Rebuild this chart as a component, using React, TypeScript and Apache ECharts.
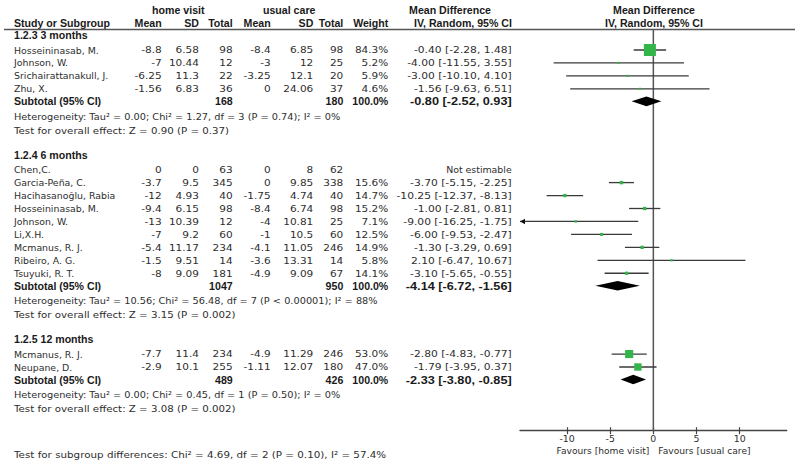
import React, { useEffect, useRef } from "react";
import * as echarts from "echarts";

// ---------- data ----------
const groupTitles = ["1.2.3 3 months", "1.2.4 6 months", "1.2.5 12 months"];
const studyGroup = [0, 0, 0, 0, 1, 1, 1, 1, 1, 1, 1, 1, 1, 2, 2];
const studyNames = [
  "Hosseininasab, M.", "Johnson, W.", "Srichairattanakull, J.", "Zhu, X.",
  "Chen,C.", "Garcia-Peña, C.", "Hacihasanoğlu, Rabia", "Hosseininasab, M.", "Johnson, W.",
  "Li,X.H.", "Mcmanus, R. J.", "Ribeiro, A. G.", "Tsuyuki, R. T.",
  "Mcmanus, R. J.", "Neupane, D.",
];
const hvMean = [-8.8, -7, -6.25, -1.56, 0, -3.7, -12, -9.4, -13, -7, -5.4, -1.5, -8, -7.7, -2.9];
const hvSD = [6.58, 10.44, 11.3, 6.83, 0, 9.5, 4.93, 6.15, 10.39, 9.2, 11.17, 9.51, 9.09, 11.4, 10.1];
const hvTotal = [98, 12, 22, 36, 63, 345, 40, 98, 12, 60, 234, 14, 181, 234, 255];
const ucMean = [-8.4, -3, -3.25, 0, 0, 0, -1.75, -8.4, -4, -1, -4.1, -3.6, -4.9, -4.9, -1.11];
const ucSD = [6.85, 12, 12.1, 24.06, 8, 9.85, 4.74, 6.74, 10.81, 10.5, 11.05, 13.31, 9.09, 11.29, 12.07];
const ucTotal = [98, 25, 20, 37, 62, 338, 40, 98, 25, 60, 246, 14, 67, 246, 180];
const weights: (number | null)[] = [84.3, 5.2, 5.9, 4.6, null, 15.6, 14.7, 15.2, 7.1, 12.5, 14.9, 5.8, 14.1, 53.0, 47.0];
const mdEst: (number | null)[] = [-0.4, -4.0, -3.0, -1.56, null, -3.7, -10.25, -1.0, -9.0, -6.0, -1.3, 2.1, -3.1, -2.8, -1.79];
const mdLo: (number | null)[] = [-2.28, -11.55, -10.1, -9.63, null, -5.15, -12.37, -2.81, -16.25, -9.53, -3.29, -6.47, -5.65, -4.83, -3.95];
const mdHi: (number | null)[] = [1.48, 3.55, 4.1, 6.51, null, -2.25, -8.13, 0.81, -1.75, -2.47, 0.69, 10.67, -0.55, -0.77, 0.37];

const subHvTotal = [168, 1047, 489];
const subUcTotal = [180, 950, 426];
const subEst = [-0.8, -4.14, -2.33];
const subLo = [-2.52, -6.72, -3.8];
const subHi = [0.93, -1.56, -0.85];
const heterogeneity = [
  "Tau² = 0.00; Chi² = 1.27, df = 3 (P = 0.74); I² = 0%",
  "Tau² = 10.56; Chi² = 56.48, df = 7 (P < 0.00001); I² = 88%",
  "Tau² = 0.00; Chi² = 0.45, df = 1 (P = 0.50); I² = 0%",
];
const overallEffect = ["Z = 0.90 (P = 0.37)", "Z = 3.15 (P = 0.002)", "Z = 3.08 (P = 0.002)"];
const subgroupDiff = "Chi² = 4.69, df = 2 (P = 0.10), I² = 57.4%";
const tickValues = [-10, -5, 0, 5, 10];
const favours = ["Favours [home visit]", "Favours [usual care]"];

// ---------- layout / style ----------
const X_MIN = -15.45;
const X_MAX = 15.45;
const Y_TOP = 29.5;
const Y_AXIS = 430.7;
const FONT = "DejaVu Sans";
const FONT_B = "Liberation Sans";
const FS = 9.4;
const FS_B = 10.6;
const TXT = "#2e2e2e";
const BOLD = "#1a1a1a";
const GREEN = "#33b54a";

const COL = {
  name: 14, hvMean: 161.7, hvSD: 199, hvTotal: 232.7, ucMean: 270.7, ucSD: 313.3,
  ucTotal: 343.3, weight: 388.3, ci: 511.7,
};

function fmtCI(e: number, l: number, h: number) {
  return `${e.toFixed(2)} [${l.toFixed(2)}, ${h.toFixed(2)}]`;
}

function computeLayout() {
  const L = { first: 35, toStudy: 15, step: 12.95, toSub: 12.5, toHet: 15, toTest: 14.3, toNext: 24 };
  const groupY: number[] = [], subY: number[] = [], hetY: number[] = [], testY: number[] = [];
  const studyY: number[] = new Array(studyNames.length).fill(0);
  let y = L.first;
  groupTitles.forEach((_, g) => {
    groupY[g] = y;
    y += L.toStudy;
    const idx = studyGroup.map((gg, i) => (gg === g ? i : -1)).filter((i) => i >= 0);
    idx.forEach((i, k) => {
      studyY[i] = y;
      if (k < idx.length - 1) y += L.step;
    });
    y += L.toSub; subY[g] = y;
    y += L.toHet; hetY[g] = y;
    y += L.toTest; testY[g] = y;
    y += L.toNext;
  });
  return { groupY, subY, hetY, testY, studyY };
}

function txt(x: number, y: number, text: string, align: string, bold = false, sx = 1) {
  return {
    type: "text",
    x, y, scaleX: sx, silent: true,
    style: {
      text,
      textAlign: align,
      textVerticalAlign: "middle",
      fontFamily: bold ? FONT_B : FONT,
      fontSize: bold ? FS_B : FS,
      fontWeight: bold ? "bold" : "normal",
      fill: bold ? BOLD : TXT,
    },
  };
}

const SX_NUM = 1.12;
const SX_CI = 1.14;
const SX_CI_B = 1.2;
const SX_HET = 1.04;
const SX_TEST = 1.09;
const SX_DIFF = 1.1;

function buildOption() {
  const { groupY, subY, hetY, testY, studyY } = computeLayout();
  const g: any[] = [];

  // header
  g.push(txt(178.3, 10, "home visit", "center", true));
  g.push(txt(289.2, 10, "usual care", "center", true));
  g.push(txt(450, 10, "Mean Difference", "center", true));
  g.push(txt(654, 10, "Mean Difference", "center", true));
  g.push(txt(COL.name, 23, "Study or Subgroup", "left", true));
  g.push(txt(COL.hvMean, 23, "Mean", "right", true));
  g.push(txt(COL.hvSD, 23, "SD", "right", true));
  g.push(txt(COL.hvTotal, 23, "Total", "right", true));
  g.push(txt(COL.ucMean, 23, "Mean", "right", true));
  g.push(txt(COL.ucSD, 23, "SD", "right", true));
  g.push(txt(COL.ucTotal, 23, "Total", "right", true));
  g.push(txt(COL.weight, 23, "Weight", "right", true));
  g.push(txt(463, 23, "IV, Random, 95% CI", "center", true));
  g.push(txt(654, 23, "IV, Random, 95% CI", "center", true));
  g.push({
    type: "line", silent: true,
    shape: { x1: 4, y1: Y_TOP, x2: 795, y2: Y_TOP },
    style: { stroke: "#555", lineWidth: 1.3 },
  });

  groupTitles.forEach((title, gi) => {
    g.push(txt(COL.name, groupY[gi], title, "left", true));
    g.push(txt(COL.name, subY[gi], "Subtotal (95% CI)", "left", true));
    g.push(txt(COL.hvTotal, subY[gi], String(subHvTotal[gi]), "right", true));
    g.push(txt(COL.ucTotal, subY[gi], String(subUcTotal[gi]), "right", true));
    g.push(txt(COL.weight, subY[gi], "100.0%", "right", true));
    g.push(txt(COL.ci, subY[gi], fmtCI(subEst[gi], subLo[gi], subHi[gi]), "right", true, SX_CI_B));
    g.push(txt(COL.name, hetY[gi], "Heterogeneity: " + heterogeneity[gi], "left", false, SX_HET));
    g.push(txt(COL.name, testY[gi], "Test for overall effect: " + overallEffect[gi], "left", false, SX_TEST));
  });

  studyNames.forEach((name, i) => {
    const y = studyY[i];
    g.push(txt(COL.name, y, name, "left"));
    g.push(txt(COL.hvMean, y, String(hvMean[i]), "right", false, SX_NUM));
    g.push(txt(COL.hvSD, y, String(hvSD[i]), "right", false, SX_NUM));
    g.push(txt(COL.hvTotal, y, String(hvTotal[i]), "right", false, SX_NUM));
    g.push(txt(COL.ucMean, y, String(ucMean[i]), "right", false, SX_NUM));
    g.push(txt(COL.ucSD, y, String(ucSD[i]), "right", false, SX_NUM));
    g.push(txt(COL.ucTotal, y, String(ucTotal[i]), "right", false, SX_NUM));
    const w = weights[i];
    if (w != null) g.push(txt(COL.weight, y, w.toFixed(1) + "%", "right", false, SX_NUM));
    const e = mdEst[i], l = mdLo[i], h = mdHi[i];
    if (e == null) g.push(txt(COL.ci, y, "Not estimable", "right"));
    else g.push(txt(COL.ci, y, fmtCI(e, l as number, h as number), "right", false, SX_CI));
  });

  g.push(txt(COL.name, 455, "Test for subgroup differences: " + subgroupDiff, "left", false, SX_DIFF));
  g.push(txt(649.3, 450.7, favours[0], "right", false, 0.97));
  g.push(txt(658.3, 450.7, favours[1], "left", false, 0.97));

  const studyData: number[][] = [];
  studyNames.forEach((_, i) => {
    if (mdEst[i] == null) return;
    studyData.push([mdEst[i] as number, studyY[i], mdLo[i] as number, mdHi[i] as number, weights[i] as number]);
  });
  const diamondData = groupTitles.map((_, gi) => [subEst[gi], subY[gi], subLo[gi], subHi[gi]]);

  const axisCommon = {
    type: "value",
    min: X_MIN,
    max: X_MAX,
    position: "bottom",
    splitLine: { show: false },
  };

  return {
    animation: false,
    grid: { left: 520, right: 800 - 786.7, top: Y_TOP, bottom: 467 - Y_AXIS, containLabel: false },
    xAxis: [
      {
        ...axisCommon,
        axisLine: { show: true, onZero: false, lineStyle: { color: "#444", width: 1.3 } },
        axisTick: { show: true, customValues: tickValues, length: 3.5, lineStyle: { color: "#444", width: 1.2 } },
        axisLabel: {
          show: true, customValues: tickValues, margin: 3,
          fontFamily: FONT, fontSize: FS, color: TXT,
        },
      },
      {
        ...axisCommon,
        axisLine: { show: false, onZero: false },
        axisTick: { show: true, inside: true, customValues: tickValues, length: 3.5, lineStyle: { color: "#444", width: 1.2 } },
        axisLabel: { show: false },
      },
    ],
    yAxis: { type: "value", min: Y_TOP, max: Y_AXIS, inverse: true, show: false },
    graphic: g,
    series: [
      {
        type: "line",
        xAxisIndex: 0,
        data: [[0, Y_TOP], [0, Y_AXIS]],
        symbol: "none",
        lineStyle: { color: "#555", width: 1.5 },
        silent: true,
        z: 1,
      },
      {
        type: "custom",
        xAxisIndex: 0,
        z: 3,
        silent: true,
        encode: { x: [0, 2, 3], y: 1 },
        data: studyData,
        renderItem: (params: any, api: any) => {
          const est = api.value(0), y = api.value(1), lo = api.value(2), hi = api.value(3), w = api.value(4);
          const a = api.coord([Math.max(lo, X_MIN), y]);
          const b = api.coord([Math.min(hi, X_MAX), y]);
          const c = api.coord([est, y]);
          const s = 1.5 + 0.125 * w;
          const children: any[] = [
            { type: "line", shape: { x1: a[0], y1: a[1], x2: b[0], y2: b[1] }, style: { stroke: "#3a3a3a", lineWidth: 1.3 } },
            { type: "rect", shape: { x: c[0] - s / 2, y: c[1] - s / 2, width: s, height: s }, style: { fill: GREEN } },
          ];
          if (lo < X_MIN) {
            children.push({
              type: "polygon",
              shape: { points: [[a[0], a[1]], [a[0] + 5, a[1] - 2.8], [a[0] + 5, a[1] + 2.8]] },
              style: { fill: "#111" },
            });
          }
          return { type: "group", children };
        },
      },
      {
        type: "custom",
        xAxisIndex: 0,
        z: 3,
        silent: true,
        encode: { x: [0, 2, 3], y: 1 },
        data: diamondData,
        renderItem: (params: any, api: any) => {
          const y = api.value(1);
          const c = api.coord([api.value(0), y]);
          const l = api.coord([api.value(2), y]);
          const r = api.coord([api.value(3), y]);
          const h = 4.8;
          return {
            type: "polygon",
            shape: { points: [[l[0], l[1]], [c[0], c[1] - h], [r[0], r[1]], [c[0], c[1] + h]] },
            style: { fill: "#000" },
          };
        },
      },
    ],
  };
}

export default function App() {
  const ref = useRef<HTMLDivElement>(null);
  useEffect(() => {
    document.body.style.margin = "0";
    const chart = echarts.init(ref.current as HTMLDivElement, undefined, { renderer: "svg" });
    chart.setOption(buildOption() as any);
    return () => chart.dispose();
  }, []);
  return <div ref={ref} style={{ width: 800, height: 467, background: "#fff" }} />;
}
